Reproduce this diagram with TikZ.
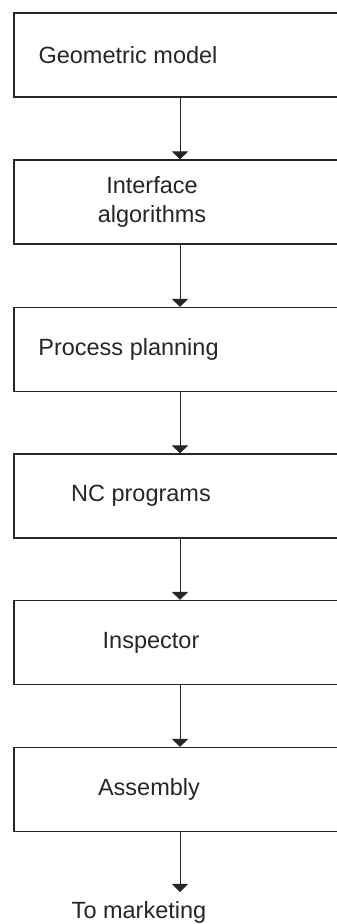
\documentclass[tikz,border=0pt]{standalone}
\usepackage{fontspec}
\setmainfont{Liberation Sans}
\usetikzlibrary{arrows.meta}
\begin{document}
\begin{tikzpicture}[x=1pt,y=1pt,
  stage/.style={draw=black!85, line width=1.1pt, minimum width=332pt, minimum height=84pt, inner sep=0pt},
  label/.style={text=black!85, font=\fontsize{23.5}{29}\selectfont, inner sep=0pt, align=center},
  flow/.style={draw=black!85, line width=1pt, -{Triangle[width=16pt,length=8pt]}}]
\useasboundingbox (0,0) rectangle (337,924);
\clip (0,0) rectangle (337,924);
% process stages, one below the other
\node[stage] (b1) at (180,869) {};
\node[stage] (b2) at (180,722) {};
\node[stage] (b3) at (180,574.5) {};
\node[stage] (b4) at (180,428) {};
\node[stage] (b5) at (180,281.5) {};
\node[stage] (b6) at (180,134.5) {};
% stage captions
\node[label] (t1) at (128,869) {Geometric model};
\node[label] (t2) at (152,722) {Interface\\algorithms};
\node[label] (t3) at (128.5,574.5) {Process planning};
\node[label] (t4) at (141,428) {NC programs};
\node[label] (t5) at (151,281.5) {Inspector};
\node[label] (t6) at (149,134.5) {Assembly};
\coordinate (out) at (180,32);
\node[label, anchor=base] (t7) at (139,5.5) {To marketing};
% connectors
\draw[flow] (b1.south) -- (b2.north);
\draw[flow] (b2.south) -- (b3.north);
\draw[flow] (b3.south) -- (b4.north);
\draw[flow] (b4.south) -- (b5.north);
\draw[flow] (b5.south) -- (b6.north);
\draw[flow] (b6.south) -- (out);
\end{tikzpicture}
\end{document}
